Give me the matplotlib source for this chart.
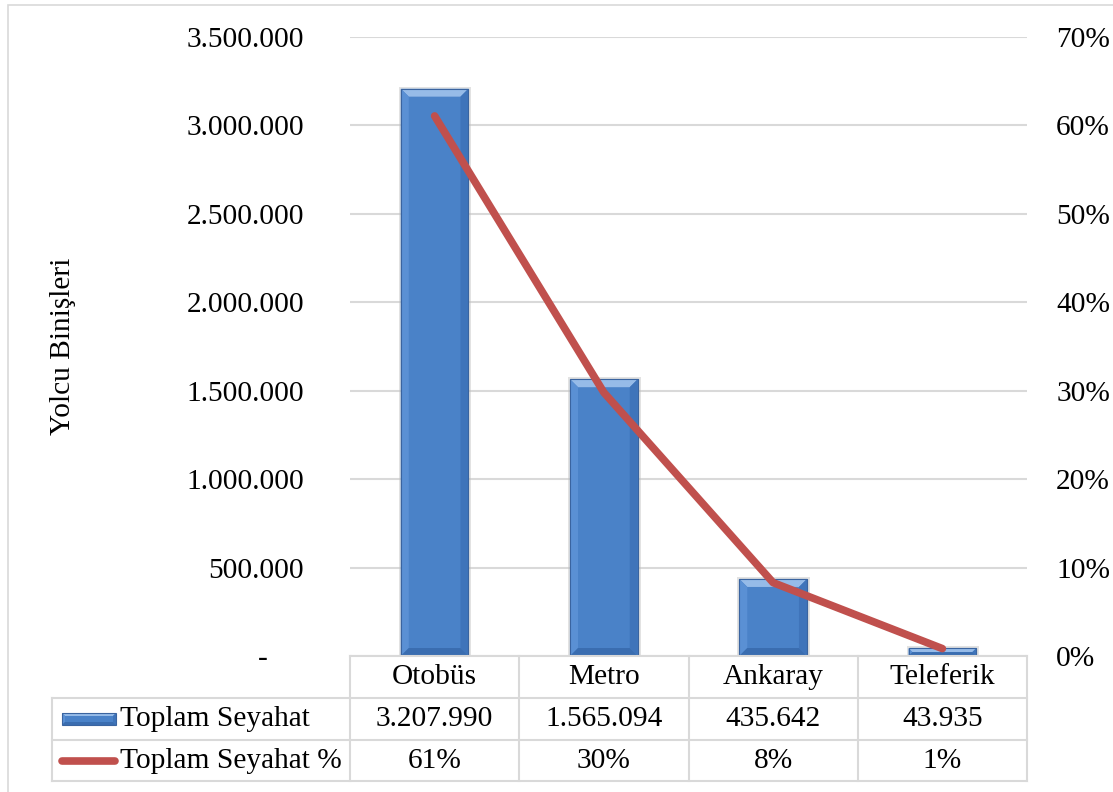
import matplotlib
matplotlib.use('Agg')
import matplotlib.pyplot as plt
from matplotlib.patches import Polygon, Rectangle
from matplotlib.transforms import IdentityTransform
from matplotlib.ticker import FuncFormatter
import numpy as np

categories = ['Otobüs', 'Metro', 'Ankaray', 'Teleferik']
trips = [3207990, 1565094, 435642, 43935]
series_bar = 'Toplam Seyahat'
series_line = 'Toplam Seyahat %'

total = sum(trips)
shares = [t / total for t in trips]

W, H = 1113, 792
plt.rcParams['font.family'] = ['Liberation Serif', 'DejaVu Serif']
FS = 21.2

BLUE = '#4a82c8'
BLUE_TOP = '#96bbe8'
BLUE_LEFT = '#5a90d4'
BLUE_RIGHT = '#3f74ba'
BLUE_BOTTOM = '#3a6db0'
BLUE_EDGE = '#3a64a0'
RED = '#c0504d'
GRID = '#d9d9d9'

fig = plt.figure(figsize=(W / 100, H / 100), dpi=100)


def fx(px):
    return px / W


def fy(py):
    # py measured from the top edge
    return 1 - py / H


ax_left, ax_right, ax_top, ax_bottom = 350, 1027, 37, 656
ax = fig.add_axes([fx(ax_left), fy(ax_bottom), fx(ax_right - ax_left), (ax_bottom - ax_top) / H])
ax2 = ax.twinx()

x = np.arange(len(categories))
ax.set_xlim(-0.5, len(categories) - 0.5)
ax.set_ylim(0, 3500000)
ax.set_yticks(np.arange(0, 3500001, 500000))


def thousands(v, pos):
    if v == 0:
        return '-     '
    return f'{int(v):,}'.replace(',', '.')


ax.yaxis.set_major_formatter(FuncFormatter(thousands))
ax.grid(axis='y', color=GRID, linewidth=1.5)
ax.set_axisbelow(True)
ax.set_xticks([])
ax.tick_params(axis='y', length=0, pad=33, labelsize=FS)
for s in ax.spines.values():
    s.set_visible(False)

ax2.set_ylim(0, 0.7)
ax2.set_yticks(np.arange(0, 0.71, 0.1))
ax2.yaxis.set_major_formatter(FuncFormatter(lambda v, p: f'{v * 100:.0f}%'))
ax2.tick_params(axis='y', length=0, pad=21, labelsize=FS)
for s in ax2.spines.values():
    s.set_visible(False)

ax.set_ylabel('Yolcu Binişleri', fontsize=FS)
ax.yaxis.set_label_coords((76 - ax_left) / (ax_right - ax_left), 0.5)

bars = ax.bar(x, trips, width=0.4, color=BLUE, edgecolor=BLUE_EDGE, linewidth=0.8, zorder=2)

fig.canvas.draw()


def bevel(x0, y0, x1, y1, b, target, zorder=3):
    # beveled look: lighter top/left edges, darker bottom/right edges
    b = min(b, (x1 - x0) / 2, (y1 - y0) / 2)
    faces = [
        ([(x0, y1), (x1, y1), (x1 - b, y1 - b), (x0 + b, y1 - b)], BLUE_TOP),
        ([(x0, y0), (x0, y1), (x0 + b, y1 - b), (x0 + b, y0 + b)], BLUE_LEFT),
        ([(x1, y0), (x1, y1), (x1 - b, y1 - b), (x1 - b, y0 + b)], BLUE_RIGHT),
        ([(x0, y0), (x1, y0), (x1 - b, y0 + b), (x0 + b, y0 + b)], BLUE_BOTTOM),
    ]
    patches = [Polygon(pts, closed=True, facecolor=c, edgecolor='none',
                       transform=IdentityTransform(), zorder=zorder) for pts, c in faces]
    patches.append(Rectangle((x0, y0), x1 - x0, y1 - y0, facecolor='none',
                             edgecolor=BLUE_EDGE, linewidth=0.8,
                             transform=IdentityTransform(), zorder=zorder))
    for p in patches:
        if target is None:
            fig.add_artist(p)
        else:
            target.add_patch(p)


for bar in bars:
    bb = bar.get_window_extent()
    # soft drop shadow behind each bar
    ax.add_patch(Rectangle((bb.x0 - 2, bb.y0), bb.width + 5, bb.height + 2,
                           facecolor='#bfbfbf', edgecolor='none', alpha=0.45,
                           transform=IdentityTransform(), zorder=1.5))
    bevel(bb.x0, bb.y0, bb.x1, bb.y1, 8, ax2)

ax2.plot(x, shares, color=RED, linewidth=5.5, solid_capstyle='round',
         solid_joinstyle='round', zorder=4)

# data table under the plot
col_edges = [ax.transData.transform((i - 0.5, 0))[0] for i in range(len(categories) + 1)]
row_edges = [656, 698, 740, 781]
label_left = 52
line_kw = dict(color=GRID, linewidth=1.5, transform=fig.transFigure)

for r in row_edges:
    left = col_edges[0] if r == row_edges[0] else label_left
    fig.add_artist(plt.Line2D([fx(left), fx(col_edges[-1])], [fy(r), fy(r)], **line_kw))
for cx in col_edges:
    fig.add_artist(plt.Line2D([fx(cx), fx(cx)], [fy(row_edges[0]), fy(row_edges[-1])], **line_kw))
fig.add_artist(plt.Line2D([fx(label_left), fx(label_left)], [fy(row_edges[1]), fy(row_edges[-1])], **line_kw))

pct_labels = [f'{s * 100:.0f}%' for s in shares]
trip_labels = [f'{t:,}'.replace(',', '.') for t in trips]
for i in range(len(categories)):
    cx = (col_edges[i] + col_edges[i + 1]) / 2
    for r, txt in enumerate([categories[i], trip_labels[i], pct_labels[i]]):
        cy = (row_edges[r] + row_edges[r + 1]) / 2
        fig.text(fx(cx), fy(cy), txt, ha='center', va='center', fontsize=FS)

# legend keys inside the table
cy1 = (row_edges[1] + row_edges[2]) / 2
cy2 = (row_edges[2] + row_edges[3]) / 2
fig.add_artist(Rectangle((62, H - cy1 - 6), 54, 12, facecolor=BLUE, edgecolor='none',
                         transform=IdentityTransform()))
bevel(62, H - cy1 - 6, 116, H - cy1 + 6, 3, None)
fig.add_artist(plt.Line2D([fx(62), fx(115)], [fy(cy2), fy(cy2)], color=RED,
                          linewidth=5.5, solid_capstyle='round', transform=fig.transFigure))
fig.text(fx(120), fy(cy1), series_bar, ha='left', va='center', fontsize=FS)
fig.text(fx(120), fy(cy2), series_line, ha='left', va='center', fontsize=FS)

# chart area border
fig.add_artist(Rectangle((fx(8), fy(800)), 1.0, fy(5) - fy(800), facecolor='none',
                         edgecolor=GRID, linewidth=1.2, transform=fig.transFigure))

fig.savefig('out.png', dpi=100)
